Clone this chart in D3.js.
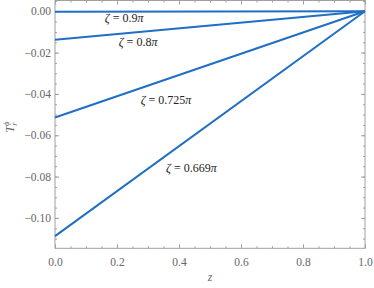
<!DOCTYPE html>
<html>
<head>
<meta charset="utf-8">
<script src="https://cdn.jsdelivr.net/npm/d3@7"></script>
<style>
  body { margin: 0; background: #fff; }
</style>
</head>
<body>
<svg id="chart" width="374" height="288"></svg>
<script>
// one straight line per zeta, from z=0 to z=1
const zetas = ['0.9', '0.8', '0.725', '0.669'];
const startVals = [-0.0002, -0.0138, -0.0514, -0.1088];
const endVals = [0, 0, 0, 0];
const zPoints = [0, 1];
// where each label sits (data coords)
const labelZ = [0.223, 0.268, 0.358, 0.440];
const labelT = [-0.0052, -0.0168, -0.0449, -0.0778];
const xTicks = [0, 0.2, 0.4, 0.6, 0.8, 1.0];
const yTicks = [0, -0.02, -0.04, -0.06, -0.08, -0.10];

const serif = 'Liberation Serif';

const svg = d3.select('#chart');
const margin = { top: 0.5, left: 55, right: 9, bottom: 39.7 };
const width = 374, height = 288;

const x = d3.scaleLinear().domain([0, 1]).range([margin.left, width - margin.right]);
const y = d3.scaleLinear().domain([-0.1147, 0.0052]).range([height - margin.bottom, margin.top]);

const frameCol = '#a0a0a0';
const tickCol = '#666';
const blue = '#1f6fc4';

// minor tick values
const xMinor = d3.range(0, 1.0001, 0.05);
const yMinor = d3.range(-0.11, 0.0051, 0.005);

// bottom / top axes
svg.append('g')
    .attr('transform', `translate(0,${y.range()[0]})`)
    .call(d3.axisBottom(x).tickValues(xMinor).tickSize(-2).tickFormat(''))
    .call(g => g.select('.domain').remove())
    .call(g => g.selectAll('line').attr('stroke', frameCol));
svg.append('g')
    .attr('transform', `translate(0,${y.range()[0]})`)
    .call(d3.axisBottom(x).tickValues(xTicks).tickSize(-4).tickPadding(10).tickFormat(d3.format('.1f')))
    .attr('font-family', serif)
    .attr('font-size', 11.5)
    .call(g => g.select('.domain').remove())
    .call(g => g.selectAll('line').attr('stroke', frameCol))
    .call(g => g.selectAll('text').attr('fill', tickCol));
svg.append('g')
    .attr('transform', `translate(0,${y.range()[1]})`)
    .call(d3.axisTop(x).tickValues(xMinor).tickSize(-2).tickFormat(''))
    .call(g => g.select('.domain').remove())
    .call(g => g.selectAll('line').attr('stroke', frameCol));
svg.append('g')
    .attr('transform', `translate(0,${y.range()[1]})`)
    .call(d3.axisTop(x).tickValues(xTicks).tickSize(-4).tickFormat(''))
    .call(g => g.select('.domain').remove())
    .call(g => g.selectAll('line').attr('stroke', frameCol));

// left / right axes
const fmtY = d => d === 0 ? '0.00' : '\u2212' + d3.format('.2f')(-d);
svg.append('g')
    .attr('transform', `translate(${x.range()[0]},0)`)
    .call(d3.axisLeft(y).tickValues(yMinor).tickSize(-2).tickFormat(''))
    .call(g => g.select('.domain').remove())
    .call(g => g.selectAll('line').attr('stroke', frameCol));
svg.append('g')
    .attr('transform', `translate(${x.range()[0]},0)`)
    .call(d3.axisLeft(y).tickValues(yTicks).tickSize(-4).tickPadding(4).tickFormat(fmtY))
    .attr('font-family', serif)
    .attr('font-size', 11.5)
    .call(g => g.select('.domain').remove())
    .call(g => g.selectAll('line').attr('stroke', frameCol))
    .call(g => g.selectAll('text').attr('fill', tickCol));
svg.append('g')
    .attr('transform', `translate(${x.range()[1]},0)`)
    .call(d3.axisRight(y).tickValues(yMinor).tickSize(-2).tickFormat(''))
    .call(g => g.select('.domain').remove())
    .call(g => g.selectAll('line').attr('stroke', frameCol));
svg.append('g')
    .attr('transform', `translate(${x.range()[1]},0)`)
    .call(d3.axisRight(y).tickValues(yTicks).tickSize(-4).tickFormat(''))
    .call(g => g.select('.domain').remove())
    .call(g => g.selectAll('line').attr('stroke', frameCol));

// frame
svg.append('rect')
    .attr('x', x.range()[0]).attr('y', y.range()[1])
    .attr('width', x.range()[1] - x.range()[0])
    .attr('height', y.range()[0] - y.range()[1])
    .attr('fill', 'none').attr('stroke', frameCol).attr('stroke-width', 1);

// lines
const line = d3.line().x(d => x(d[0])).y(d => y(d[1]));
zetas.forEach((z, i) => {
    const pts = [[zPoints[0], startVals[i]], [zPoints[1], endVals[i]]];
    svg.append('path')
        .attr('d', line(pts))
        .attr('fill', 'none')
        .attr('stroke', blue)
        .attr('stroke-width', 2);
});

// curve labels
zetas.forEach((z, i) => {
    const t = svg.append('text')
        .attr('x', x(labelZ[i]))
        .attr('y', y(labelT[i]))
        .attr('text-anchor', 'middle')
        .attr('fill', '#222')
        .attr('font-family', serif)
        .attr('font-size', 12);
    t.append('tspan').attr('font-style', 'italic').text('\u03b6');
    t.append('tspan').text(' = ' + z);
    t.append('tspan').attr('font-style', 'italic').text('\u03c0');
});

// axis titles
svg.append('text')
    .attr('x', (x.range()[0] + x.range()[1]) / 2)
    .attr('y', 281)
    .attr('text-anchor', 'middle')
    .attr('fill', tickCol)
    .attr('font-family', serif)
    .attr('font-style', 'italic')
    .attr('font-size', 12)
    .text('z');

const yl = svg.append('text')
    .attr('transform', 'translate(14,127) rotate(-90)')
    .attr('text-anchor', 'middle')
    .attr('fill', tickCol)
    .attr('font-family', serif)
    .attr('font-size', 12);
yl.append('tspan').attr('font-style', 'italic').text('T');
yl.append('tspan').attr('dy', 3).attr('font-size', 8).attr('font-style', 'italic').text('r');
yl.append('tspan').attr('dx', -3).attr('dy', -8).attr('font-size', 8).attr('font-style', 'italic').text('\u03d5');
</script>
</body>
</html>
